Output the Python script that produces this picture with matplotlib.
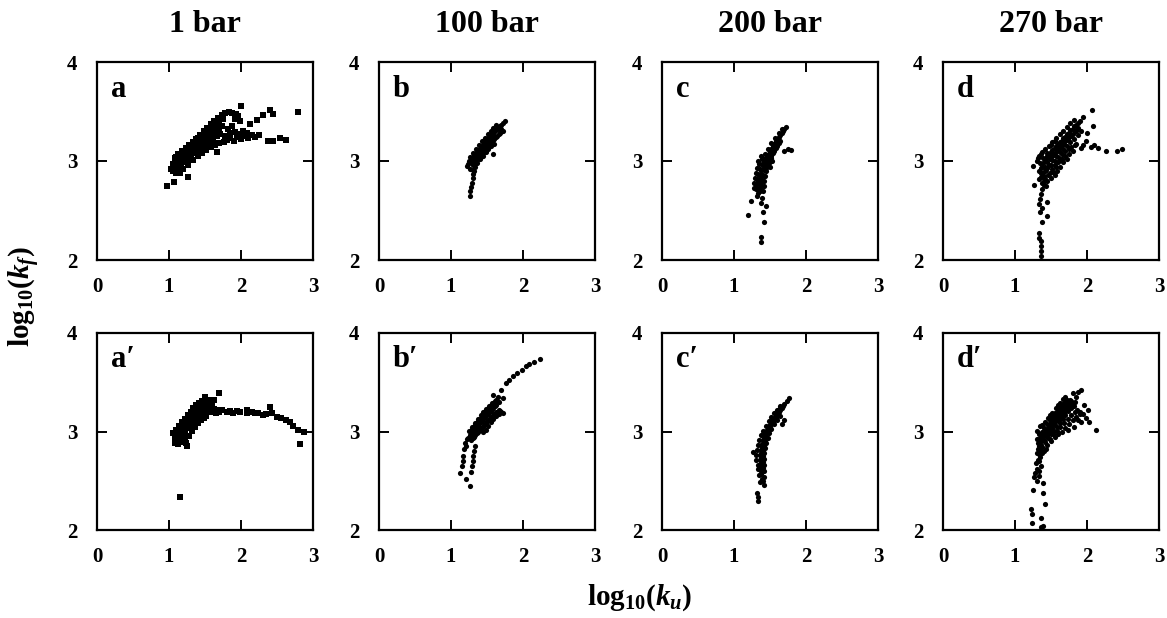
import matplotlib
matplotlib.use("Agg")
import matplotlib.pyplot as plt

plt.rcParams['font.family'] = ['Liberation Serif', 'DejaVu Serif']
plt.rcParams['font.weight'] = 'bold'
plt.rcParams['mathtext.fontset'] = 'custom'
plt.rcParams['mathtext.rm'] = 'Liberation Serif:bold'
plt.rcParams['mathtext.it'] = 'Liberation Serif:bold:italic'
plt.rcParams['mathtext.bf'] = 'Liberation Serif:bold'

titles = ["1 bar", "100 bar", "200 bar", "270 bar"]
panel_labels = ["a", "b", "c", "d", "a\u2032", "b\u2032", "c\u2032", "d\u2032"]
x_ticks = [0, 1, 2, 3]
y_ticks = [2, 3, 4]

# Panel a (1 bar)
a_pts = [
    (1.08,3.03),(1.13,3.07),(1.18,3.10),(1.23,3.13),(1.28,3.16),(1.33,3.19),(1.38,3.22),(1.43,3.26),(1.48,3.30),
    (1.53,3.33),(1.58,3.37),(1.63,3.40),(1.68,3.43),(1.73,3.46),(1.78,3.48),(1.83,3.49),(1.88,3.48),(1.93,3.47),
    (1.10,3.04),(1.15,3.07),(1.20,3.10),(1.25,3.13),(1.30,3.16),(1.35,3.19),(1.40,3.23),(1.45,3.26),(1.50,3.29),
    (1.55,3.32),(1.60,3.36),(1.65,3.39),(1.70,3.42),(1.75,3.45),
    (1.05,2.97),(1.10,3.02),(1.15,3.05),(1.20,3.08),(1.25,3.11),(1.30,3.14),(1.35,3.17),(1.40,3.21),(1.45,3.24),
    (1.50,3.27),(1.55,3.30),(1.60,3.33),(1.65,3.36),(1.70,3.39),(1.75,3.42),
    (1.03,2.92),(1.08,2.96),(1.13,3.00),(1.18,3.03),(1.23,3.06),(1.28,3.09),(1.33,3.12),(1.38,3.15),(1.43,3.18),
    (1.48,3.21),(1.53,3.24),(1.58,3.27),(1.63,3.30),(1.68,3.33),(1.73,3.35),
    (1.05,2.91),(1.10,2.95),(1.15,2.98),(1.20,3.01),(1.25,3.04),(1.30,3.07),(1.35,3.10),(1.40,3.13),(1.45,3.16),
    (1.50,3.19),(1.55,3.22),(1.60,3.25),(1.65,3.28),(1.70,3.30),
    (1.06,2.90),(1.11,2.93),(1.16,2.96),(1.21,2.99),(1.26,3.02),(1.31,3.05),(1.36,3.08),(1.41,3.11),(1.46,3.14),
    (1.51,3.17),(1.56,3.20),(1.61,3.22),(1.66,3.25),(1.71,3.27),
    (1.10,2.88),(1.15,2.88),(1.20,2.92),(1.27,2.96),(1.34,3.01),(1.40,3.05),(1.46,3.08),(1.52,3.11),(1.58,3.14),
    (1.64,3.16),(1.70,3.18),(1.76,3.19),
    (1.80,3.21),(1.85,3.23),(1.90,3.20),(1.95,3.24),(2.00,3.22),(2.05,3.25),(2.10,3.23),(2.15,3.26),(2.20,3.24),
    (2.25,3.26),(1.85,3.28),(1.92,3.29),(1.98,3.27),(2.03,3.30),(1.78,3.25),(1.82,3.32),(1.88,3.35),(2.08,3.28),
    (0.97,2.75),(1.07,2.79),(1.27,2.84),(1.66,3.09),(2.00,3.56),(2.40,3.52),(2.44,3.47),(2.31,3.46),(2.22,3.41),
    (2.12,3.37),(1.99,3.40),(2.38,3.20),(2.45,3.20),(2.54,3.23),(2.63,3.21),(2.79,3.50),(1.92,3.42),(1.96,3.45),
]

# Panel b (100 bar)
b_pts = [
    (1.24,2.97),(1.28,3.01),(1.32,3.05),(1.36,3.09),(1.40,3.12),(1.44,3.16),(1.48,3.20),(1.52,3.23),(1.56,3.26),
    (1.60,3.29),(1.64,3.32),(1.68,3.35),(1.72,3.38),(1.75,3.40),
    (1.30,2.96),(1.34,3.00),(1.38,3.04),(1.42,3.07),(1.46,3.11),(1.50,3.14),(1.54,3.18),(1.58,3.21),(1.62,3.24),
    (1.66,3.27),(1.70,3.30),
    (1.27,3.04),(1.31,3.08),(1.35,3.12),(1.39,3.16),(1.43,3.20),(1.47,3.23),(1.51,3.27),(1.55,3.30),(1.59,3.33),
    (1.63,3.36),
    (1.36,2.98),(1.40,3.02),(1.44,3.05),(1.48,3.09),(1.52,3.12),(1.56,3.15),(1.60,3.17),
    (1.26,2.99),(1.30,3.03),(1.34,3.07),(1.38,3.11),(1.42,3.14),(1.46,3.18),(1.50,3.21),(1.54,3.25),(1.58,3.28),
    (1.62,3.31),(1.66,3.34),(1.70,3.36),
    (1.32,2.97),(1.36,3.01),(1.40,3.05),(1.44,3.08),(1.48,3.12),(1.52,3.15),(1.56,3.19),(1.60,3.22),(1.64,3.25),
    (1.68,3.28),(1.34,3.03),(1.38,3.07),(1.42,3.11),(1.46,3.15),(1.50,3.18),(1.54,3.22),(1.58,3.25),
    (1.26,2.92),(1.30,2.91),(1.33,2.94),(1.22,2.95),(1.25,3.00),(1.29,2.98),
    (1.31,2.87),(1.30,2.83),(1.29,2.78),(1.28,2.74),(1.27,2.70),(1.26,2.65),(1.32,2.90),
    (1.59,3.07),(1.70,3.32),(1.72,3.30),
]

# Panel c (200 bar)
c_pts = [
    (1.72,3.34),(1.68,3.30),(1.64,3.26),(1.60,3.22),(1.56,3.17),(1.52,3.12),(1.48,3.07),(1.45,3.02),(1.42,2.97),
    (1.40,2.92),(1.38,2.87),(1.36,2.82),(1.35,2.77),(1.34,2.72),(1.33,2.68),
    (1.66,3.32),(1.62,3.28),(1.57,3.23),(1.52,3.18),(1.47,3.12),(1.43,3.07),(1.39,3.02),(1.35,2.97),(1.32,2.93),
    (1.30,2.88),(1.29,2.83),(1.28,2.78),(1.28,2.73),(1.33,3.00),(1.37,3.05),
    (1.64,3.20),(1.60,3.15),(1.56,3.10),(1.52,3.05),(1.49,3.00),(1.47,2.95),(1.45,2.90),(1.43,2.85),(1.42,2.80),
    (1.41,2.75),(1.40,2.70),(1.53,3.00),(1.50,2.94),
    (1.58,3.19),(1.54,3.14),(1.50,3.09),(1.46,3.04),(1.43,2.99),(1.40,2.96),(1.37,2.91),(1.35,2.86),(1.33,2.80),
    (1.31,2.76),(1.38,2.78),(1.41,2.85),(1.44,2.93),
    (1.70,3.32),(1.66,3.28),(1.62,3.24),(1.58,3.20),(1.54,3.15),(1.50,3.11),(1.46,3.06),(1.42,3.02),(1.39,2.97),
    (1.36,2.92),(1.34,2.87),(1.32,2.82),(1.31,2.77),(1.30,2.72),
    (1.62,3.18),(1.58,3.13),(1.54,3.08),(1.51,3.03),(1.48,2.98),(1.45,2.96),(1.42,2.91),(1.40,2.86),(1.38,2.82),
    (1.37,2.74),(1.36,2.70),
    (1.69,3.10),(1.79,3.11),(1.75,3.12),(1.24,2.60),(1.20,2.45),(1.37,2.58),(1.44,2.55),(1.40,2.48),(1.41,2.38),
    (1.38,2.23),(1.38,2.18),(1.32,2.65),(1.39,2.63),
]

# Panel d (270 bar)
d_pts = [
    (1.34,2.82),(1.36,2.88),(1.38,2.94),(1.41,3.00),(1.45,3.05),(1.50,3.09),(1.55,3.13),(1.60,3.17),(1.65,3.20),
    (1.70,3.24),(1.75,3.28),(1.80,3.32),(1.85,3.36),(1.90,3.40),(1.95,3.44),
    (1.30,3.00),(1.33,3.05),(1.37,3.09),(1.42,3.12),(1.47,3.15),(1.52,3.19),(1.57,3.23),(1.62,3.27),(1.67,3.30),
    (1.72,3.34),(1.77,3.38),(1.82,3.41),
    (1.40,2.85),(1.43,2.91),(1.47,2.96),(1.52,3.01),(1.57,3.05),(1.62,3.09),(1.67,3.12),(1.72,3.15),(1.77,3.19),
    (1.82,3.22),(1.87,3.26),(1.92,3.30),
    (1.37,2.78),(1.39,2.84),(1.42,2.90),(1.35,2.98),(1.39,3.03),(1.44,3.08),(1.48,3.02),(1.53,3.06),(1.58,3.10),
    (1.63,3.14),(1.68,3.17),(1.73,3.21),(1.78,3.25),(1.50,3.16),(1.55,3.20),(1.83,3.30),(1.88,3.33),
    (1.36,2.93),(1.39,2.98),(1.43,3.03),(1.47,3.07),(1.52,3.11),(1.57,3.15),(1.62,3.19),(1.67,3.23),(1.72,3.27),
    (1.77,3.31),(1.82,3.35),(1.87,3.38),
    (1.38,2.88),(1.41,2.94),(1.45,2.99),(1.50,3.04),(1.55,3.08),(1.60,3.12),(1.65,3.16),(1.70,3.20),(1.75,3.24),
    (1.80,3.27),(1.85,3.30),(1.33,2.90),(1.36,2.84),(1.40,2.80),(1.32,3.03),(1.36,3.07),
    (1.45,2.80),(1.50,2.83),(1.55,2.86),(1.58,2.90),(1.62,2.94),(1.48,2.88),(1.52,2.92),(1.56,2.96),(1.60,2.99),
    (1.65,3.02),(1.70,3.05),(1.75,3.07),(1.80,3.10),(1.45,2.93),(1.50,2.96),(1.55,3.00),(1.60,3.04),(1.65,3.07),
    (1.70,3.10),(1.75,3.12),(1.42,2.82),(1.46,2.86),(1.40,2.76),(1.43,2.75),(1.38,2.72),(1.53,2.89),(1.67,2.99),
    (1.72,3.02),(1.78,3.14),(1.83,3.16),(1.62,3.02),(1.57,2.94),
    (1.92,3.13),(2.06,3.14),(2.15,3.13),(2.26,3.10),(2.42,3.10),(2.49,3.12),(2.07,3.52),(2.08,3.35),(1.98,3.20),
    (2.00,3.28),(1.85,3.17),(1.95,3.16),(2.10,3.16),
    (1.36,2.67),(1.34,2.57),(1.35,2.48),(1.37,2.38),(1.34,2.27),(1.36,2.19),(1.36,2.14),(1.36,2.09),(1.36,2.04),
    (1.45,2.59),(1.44,2.44),(1.27,2.76),(1.25,2.95),(1.35,2.62),(1.38,2.53),(1.33,2.22),
]

# Panel a' (1 bar)
a2_pts = [
    (1.06,2.98),(1.10,3.02),(1.14,3.06),(1.18,3.10),(1.22,3.13),(1.26,3.17),(1.30,3.20),(1.34,3.24),(1.38,3.27),
    (1.42,3.29),(1.46,3.31),(1.50,3.30),(1.55,3.28),(1.60,3.27),
    (1.08,2.94),(1.12,2.98),(1.16,3.02),(1.20,3.06),(1.24,3.09),(1.28,3.13),(1.32,3.16),(1.36,3.19),(1.40,3.22),
    (1.44,3.24),(1.48,3.25),(1.53,3.25),(1.58,3.24),(1.63,3.23),(1.68,3.22),(1.73,3.22),
    (1.10,2.90),(1.14,2.94),(1.18,2.97),(1.22,3.00),(1.26,3.04),(1.30,3.07),(1.34,3.10),(1.38,3.13),(1.42,3.16),
    (1.46,3.18),(1.50,3.19),(1.55,3.20),(1.60,3.20),
    (1.12,2.87),(1.18,2.91),(1.24,2.88),(1.25,2.85),(1.28,2.95),(1.32,3.01),(1.36,3.05),(1.40,3.09),(1.44,3.12),
    (1.48,3.14),(1.52,3.16),
    (1.08,2.96),(1.12,3.00),(1.16,3.04),(1.20,3.08),(1.24,3.11),(1.28,3.15),(1.32,3.18),(1.36,3.21),(1.40,3.25),
    (1.44,3.27),(1.48,3.28),(1.53,3.27),(1.58,3.26),
    (1.10,2.92),(1.14,2.96),(1.18,2.99),(1.22,3.03),(1.26,3.06),(1.30,3.10),(1.34,3.13),(1.38,3.16),(1.42,3.19),
    (1.46,3.21),(1.50,3.22),(1.55,3.22),(1.60,3.22),(1.65,3.21),(1.70,3.20),
    (1.16,2.89),(1.20,2.93),(1.14,2.90),(1.22,2.90),
    (1.08,2.88),(1.50,3.35),(1.62,3.32),(1.69,3.39),(1.55,3.32),(1.65,3.19),
    (1.80,3.20),(1.89,3.19),(1.99,3.20),(2.08,3.22),(2.08,3.19),(2.24,3.19),(2.31,3.17),(2.40,3.25),(2.43,3.19),
    (2.50,3.15),(2.56,3.14),(2.63,3.12),(2.79,3.02),(2.82,2.87),(2.72,3.06),(2.88,3.00),(1.85,3.21),(1.94,3.21),
    (2.15,3.20),(2.20,3.19),(2.35,3.18),(2.68,3.10),
    (1.15,2.34),
]

# Panel b' (100 bar)
b2_pts = [
    (1.27,2.96),(1.31,3.00),(1.35,3.04),(1.39,3.08),(1.43,3.11),(1.47,3.15),(1.51,3.18),(1.55,3.21),(1.59,3.24),
    (1.63,3.27),
    (1.25,3.01),(1.29,3.05),(1.33,3.09),(1.37,3.13),(1.41,3.17),(1.45,3.20),(1.49,3.23),(1.53,3.26),(1.57,3.29),
    (1.61,3.31),
    (1.32,2.94),(1.36,2.98),(1.40,3.02),(1.44,3.05),(1.48,3.09),(1.52,3.12),(1.56,3.15),(1.60,3.18),(1.64,3.20),
    (1.68,3.21),(1.72,3.19),
    (1.29,2.98),(1.33,3.02),(1.37,3.06),(1.41,3.10),(1.45,3.13),(1.49,3.17),(1.53,3.20),(1.57,3.23),(1.61,3.26),
    (1.24,2.93),(1.28,2.91),
    (1.29,3.03),(1.33,3.07),(1.37,3.11),(1.41,3.14),(1.45,3.18),(1.49,3.21),(1.53,3.24),(1.57,3.27),(1.61,3.29),
    (1.34,2.96),(1.38,3.00),(1.42,3.04),(1.46,3.07),(1.50,3.11),(1.54,3.14),(1.58,3.17),(1.62,3.20),(1.66,3.22),
    (1.27,2.94),(1.30,2.93),
    (1.55,3.10),(1.58,3.13),(1.52,3.06),(1.48,3.02),(1.45,2.99),(1.62,3.16),(1.66,3.18),(1.70,3.20),
    (1.65,3.35),(1.70,3.42),(1.77,3.49),(1.86,3.56),(1.98,3.62),(2.09,3.69),(2.23,3.74),(2.04,3.67),(2.15,3.71),
    (1.92,3.59),(1.81,3.52),(1.72,3.34),(1.63,3.32),(1.58,3.37),(1.67,3.30),
    (1.19,2.88),(1.18,2.82),(1.17,2.75),(1.16,2.70),(1.15,2.65),(1.13,2.58),(1.21,2.52),(1.26,2.45),(1.33,2.85),
    (1.32,2.80),(1.31,2.75),(1.30,2.70),(1.29,2.65),(1.28,2.59),(1.22,2.92),(1.21,2.85),
]

# Panel c' (200 bar)
c2_pts = [
    (1.70,3.28),(1.66,3.24),(1.62,3.20),(1.58,3.16),(1.54,3.12),(1.50,3.07),(1.47,3.03),(1.44,2.98),(1.42,2.93),
    (1.40,2.88),(1.39,2.83),(1.38,2.78),(1.38,2.73),(1.38,2.68),(1.38,2.62),(1.38,2.57),(1.39,2.52),
    (1.64,3.26),(1.60,3.22),(1.56,3.19),(1.52,3.15),(1.48,3.11),(1.44,3.06),(1.40,3.01),(1.37,2.96),(1.35,2.91),
    (1.33,2.86),(1.32,2.81),(1.30,2.76),(1.27,2.79),(1.31,2.71),(1.33,2.66),(1.34,2.62),(1.35,2.56),
    (1.60,3.12),(1.56,3.08),(1.52,3.03),(1.49,2.98),(1.47,2.93),(1.45,2.88),(1.43,2.83),(1.42,2.78),(1.42,2.72),
    (1.41,2.66),(1.42,2.60),(1.41,2.54),(1.69,3.12),(1.67,3.08),(1.64,3.16),
    (1.68,3.26),(1.64,3.22),(1.60,3.18),(1.56,3.14),(1.52,3.10),(1.48,3.06),(1.45,3.01),(1.42,2.96),(1.40,2.91),
    (1.38,2.86),(1.37,2.81),(1.36,2.76),(1.36,2.71),(1.36,2.65),(1.37,2.60),
    (1.58,3.14),(1.54,3.10),(1.50,3.05),(1.47,3.00),(1.45,2.95),(1.43,2.90),(1.41,2.85),(1.40,2.80),(1.40,2.75),
    (1.40,2.69),(1.40,2.63),
    (1.77,3.34),(1.73,3.31),(1.64,3.24),
    (1.41,2.46),(1.32,2.38),(1.33,2.29),(1.34,2.34),(1.40,2.50),(1.36,2.49),
]

# Panel d' (270 bar)
d2_pts = [
    (1.33,2.85),(1.35,2.89),(1.37,2.92),(1.40,2.95),(1.42,2.98),(1.45,3.01),(1.48,3.04),(1.51,3.07),(1.54,3.10),
    (1.57,3.13),(1.60,3.16),(1.63,3.19),(1.66,3.22),(1.69,3.24),(1.72,3.27),(1.75,3.29),(1.78,3.31),
    (1.31,2.92),(1.34,2.97),(1.37,3.00),(1.40,3.04),(1.44,3.08),(1.48,3.12),(1.52,3.16),(1.56,3.19),(1.60,3.23),
    (1.64,3.26),(1.68,3.29),(1.72,3.32),
    (1.38,2.84),(1.42,2.89),(1.46,2.93),(1.50,2.97),(1.54,3.01),(1.58,3.05),(1.62,3.09),(1.66,3.13),(1.70,3.17),
    (1.74,3.21),(1.78,3.24),(1.82,3.26),
    (1.36,2.80),(1.33,2.77),(1.35,2.74),(1.38,2.78),(1.44,2.95),(1.50,3.01),(1.56,3.07),(1.62,3.13),(1.68,3.19),
    (1.74,3.25),(1.80,3.28),
    (1.32,2.88),(1.35,2.93),(1.38,2.96),(1.41,3.00),(1.44,3.03),(1.47,3.07),(1.50,3.10),(1.53,3.13),(1.56,3.16),
    (1.59,3.19),(1.62,3.22),(1.65,3.25),(1.68,3.27),(1.71,3.30),(1.74,3.31),
    (1.36,2.86),(1.40,2.91),(1.44,2.97),(1.48,3.00),(1.52,3.04),(1.56,3.10),(1.60,3.12),(1.64,3.16),(1.68,3.21),
    (1.72,3.23),(1.76,3.27),(1.32,2.82),(1.34,2.70),(1.36,2.65),(1.33,2.55),
    (1.30,3.01),(1.35,3.06),(1.41,3.10),(1.46,3.14),(1.52,3.19),(1.57,3.24),(1.62,3.29),(1.66,3.33),(1.70,3.35),
    (1.38,3.07),(1.49,3.17),(1.60,3.27),
    (1.45,2.86),(1.50,2.90),(1.55,2.94),(1.60,2.97),(1.65,3.00),(1.70,3.04),(1.75,3.08),(1.80,3.12),(1.85,3.15),
    (1.90,3.18),(1.48,2.92),(1.53,2.97),(1.58,3.01),(1.63,3.05),(1.68,3.09),(1.73,3.13),(1.78,3.17),(1.83,3.20),
    (1.43,2.82),(1.40,2.80),
    (1.92,3.42),(1.80,3.39),(1.85,3.35),(1.76,3.32),(1.88,3.40),(1.84,3.30),
    (1.96,3.27),(2.01,3.22),(1.99,3.14),(2.03,3.10),(2.12,3.02),(1.92,3.10),(1.87,3.12),(1.82,3.05),(1.73,3.02),
    (1.90,3.20),(1.95,3.18),(1.86,3.22),
    (1.29,2.68),(1.27,2.54),(1.25,2.41),(1.22,2.21),(1.23,2.07),(1.39,2.48),(1.39,2.38),(1.41,2.26),(1.36,2.12),
    (1.39,2.04),(1.32,2.71),(1.30,2.62),(1.28,2.58),(1.31,2.50),(1.34,2.60),(1.24,2.16),(1.30,2.78),(1.36,2.03),
]

panels = [a_pts, b_pts, c_pts, d_pts, a2_pts, b2_pts, c2_pts, d2_pts]
markers = ['s', 'o', 'o', 'o', 's', 'o', 'o', 'o']

W, H = 1167, 618
fig = plt.figure(figsize=(W / 100, H / 100), dpi=100)

lefts = [97, 379, 662, 943]
row_tb = [(62, 260), (333, 530)]
axw = 216

for i, pts in enumerate(panels):
    r, c = divmod(i, 4)
    top, bot = row_tb[r]
    ax = fig.add_axes([lefts[c] / W, 1 - bot / H, axw / W, (bot - top) / H])
    xs = [p[0] for p in pts]
    ys = [p[1] for p in pts]
    ax.scatter(xs, ys, s=15 if markers[i] == 's' else 14, marker=markers[i],
               color='black', linewidths=0)
    ax.set_xlim(0, 3)
    ax.set_ylim(2, 4)
    ax.set_xticks(x_ticks)
    ax.set_yticks(y_ticks)
    ax.tick_params(direction='in', length=7, width=1.4, top=True, right=True,
                   labelsize=15, pad=12)
    ax.tick_params(axis='y', pad=14)
    for lab in ax.get_xticklabels() + ax.get_yticklabels():
        lab.set_fontweight('bold')
    for sp in ax.spines.values():
        sp.set_linewidth(1.6)
    ax.text(0.065, 0.825, panel_labels[i], transform=ax.transAxes,
            fontsize=22, fontweight='bold', ha='left', va='baseline')
    if r == 0:
        fig.text((lefts[c] + axw / 2) / W, 1 - 25 / H, titles[c], ha='center',
                 va='center', fontsize=23, fontweight='bold')

fig.text(25 / W, 1 - 297 / H, r'$\mathrm{log}_{10}(k_f)$', rotation=90,
         ha='center', va='center', fontsize=21)
fig.text(640 / W, 1 - 598 / H, r'$\mathrm{log}_{10}(k_u)$', ha='center',
         va='center', fontsize=21)

fig.savefig('out.png', dpi=100)
